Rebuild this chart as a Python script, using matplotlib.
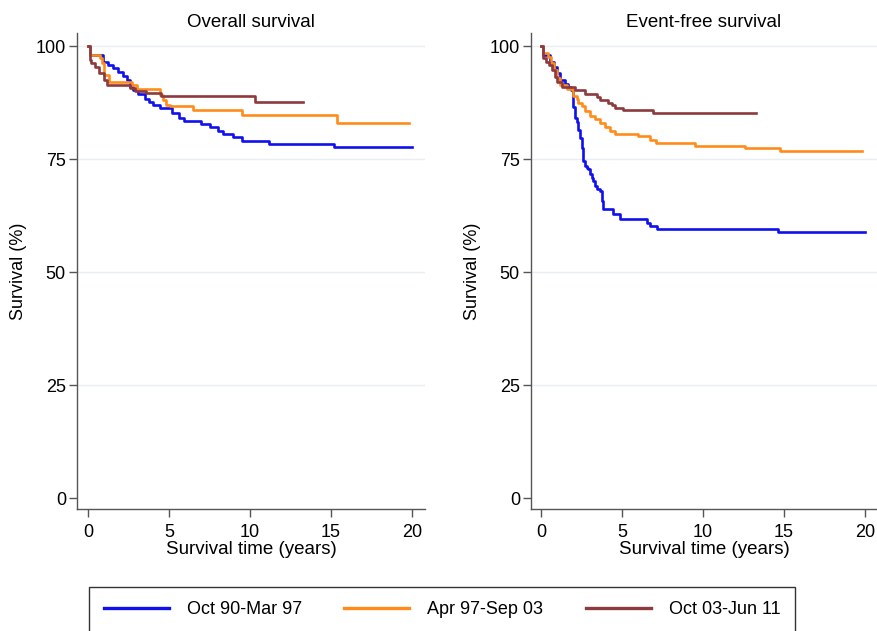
import matplotlib
matplotlib.use("Agg")
import matplotlib.pyplot as plt
from matplotlib import font_manager

# ---------------- data ----------------
groups = ["Oct 90-Mar 97", "Apr 97-Sep 03", "Oct 03-Jun 11"]
colors = ["#1010ee", "#ff8c1a", "#8c3a3e"]

os_blue_t = [0, 0.15, 0.95, 1.25, 1.56, 1.87, 2.18, 2.38, 2.59, 2.75, 3.1, 3.5, 3.75, 4.0,
             4.44, 5.2, 5.6, 5.9, 7.0, 7.5, 8.0, 8.35, 8.97, 9.5, 11.2, 15.2, 20.0]
os_blue_s = [100, 98.0, 96.5, 95.8, 95.1, 94.3, 93.4, 92.5, 91.0, 90.3, 89.4, 88.4, 87.7, 86.9,
             86.2, 85.3, 84.2, 83.5, 82.7, 82.0, 81.3, 80.5, 79.8, 79.1, 78.4, 77.6, 77.6]

os_orange_t = [0, 0.15, 0.74, 0.85, 1.0, 1.3, 2.7, 3.0, 4.44, 4.6, 4.8, 5.06, 6.5, 9.5, 15.35, 19.8]
os_orange_s = [100, 98.0, 97.3, 96.2, 93.6, 92.1, 91.4, 90.5, 89.2, 88.1, 87.0, 86.7, 85.9, 84.8, 82.9, 82.9]

os_brown_t = [0, 0.1, 0.2, 0.45, 0.66, 0.97, 1.2, 2.6, 2.9, 3.6, 4.5, 10.3, 13.3]
os_brown_s = [100, 96.9, 96.2, 95.4, 94.0, 92.5, 91.4, 90.7, 90.0, 89.6, 89.0, 87.7, 87.7]

efs_blue_t = [0, 0.1, 0.55, 0.8, 1.0, 1.15, 1.45, 1.67, 1.87, 1.95, 2.0, 2.1, 2.2, 2.3, 2.41,
              2.51, 2.61, 2.72, 2.82, 2.92, 3.02, 3.12, 3.23, 3.33, 3.44, 3.64, 3.75, 3.85,
              4.47, 4.9, 6.52, 6.73, 7.14, 14.65, 20.0]
efs_blue_s = [100, 98.0, 96.5, 95.4, 94.0, 92.5, 91.7, 91.0, 90.2, 88.4, 86.5, 84.0, 83.3, 81.5,
              79.6, 77.4, 74.5, 73.4, 73.0, 72.7, 71.6, 70.8, 70.1, 69.0, 68.3, 67.9, 65.7, 63.9,
              62.8, 61.7, 60.9, 60.2, 59.5, 58.9, 58.9]

efs_orange_t = [0, 0.1, 0.43, 0.64, 0.8, 1.0, 1.2, 1.6, 2.0, 2.2, 2.3, 2.5, 2.7, 3.0, 3.33,
                3.64, 3.95, 4.26, 4.57, 6.0, 6.7, 7.1, 9.5, 12.6, 14.75, 19.8]
efs_orange_s = [100, 98.4, 97.6, 96.2, 94.7, 92.9, 91.4, 90.4, 89.0, 88.2, 87.5, 86.8, 85.7, 84.6,
                83.8, 83.0, 82.2, 81.3, 80.5, 80.0, 79.3, 78.5, 78.0, 77.4, 76.7, 76.7]

efs_brown_t = [0, 0.1, 0.3, 0.5, 0.65, 0.85, 1.0, 1.3, 2.1, 2.72, 3.44, 3.64, 4.16, 4.36, 4.57,
               5.08, 6.94, 13.3]
efs_brown_s = [100, 97.3, 96.5, 95.8, 94.7, 93.2, 92.1, 91.0, 90.3, 89.4, 88.8, 88.0, 87.5, 86.9,
               86.3, 85.9, 85.3, 85.3]

panel_titles = ["Overall survival", "Event-free survival"]
x_ticks = [0, 5, 10, 15, 20]
y_ticks = [0, 25, 50, 75, 100]
x_label = "Survival time (years)"
y_label = "Survival (%)"

# ---------------- fonts ----------------
avail = {f.name for f in font_manager.fontManager.ttflist}
narrow = "Liberation Sans Narrow" if "Liberation Sans Narrow" in avail else "Liberation Sans"
regular = "Liberation Sans"

# ---------------- figure ----------------
W, H = 877, 631
fig = plt.figure(figsize=(W / 100, H / 100), dpi=100)

def frac(l, r, t, b):
    return [l / W, (H - b) / H, (r - l) / W, (b - t) / H]

ax1 = fig.add_axes(frac(77, 425, 33, 509))
ax2 = fig.add_axes(frac(531, 877, 33, 509))

panels = [
    (ax1, [(os_blue_t, os_blue_s), (os_orange_t, os_orange_s), (os_brown_t, os_brown_s)], (-0.68, 20.8)),
    (ax2, [(efs_blue_t, efs_blue_s), (efs_orange_t, efs_orange_s), (efs_brown_t, efs_brown_s)], (-0.62, 20.74)),
]

axis_col = "#555555"
handles = []
for i, (ax, series, xl) in enumerate(panels):
    for y in [25, 50, 75, 100]:
        ax.axhline(y, color="#eaedf1", lw=1.0, zorder=0)
    hs = []
    for (t, s), c in zip(series, colors):
        h, = ax.step(t, s, where="post", color=c, lw=1.9, zorder=3)
        hs.append(h)
    if i == 0:
        handles = hs
    ax.set_xlim(*xl)
    ax.set_ylim(-2.43, 102.9)
    ax.set_xticks(x_ticks)
    ax.set_yticks(y_ticks)
    for sp in ["top", "right"]:
        ax.spines[sp].set_visible(False)
    for sp in ["left", "bottom"]:
        ax.spines[sp].set_color(axis_col)
        ax.spines[sp].set_linewidth(1.0)
    ax.tick_params(axis="both", direction="out", length=5.5, width=1.0, color=axis_col,
                   labelsize=13)
    ax.tick_params(axis="x", pad=5.5)
    ax.tick_params(axis="y", pad=2.5)
    for lab in ax.get_xticklabels() + ax.get_yticklabels():
        lab.set_fontfamily(narrow)
    ax.set_title(panel_titles[i], fontsize=13.5, fontfamily=regular, pad=4.5)
    ax.set_xlabel(x_label, fontsize=13.5, fontfamily=narrow, labelpad=0)
    ax.set_ylabel(y_label, fontsize=13, fontfamily=narrow, labelpad=6)
    ax.set_facecolor("white")

leg = fig.legend(handles, groups, loc="center", bbox_to_anchor=(442 / W, (H - 609.5) / H),
                 ncol=3, frameon=True, fancybox=False, edgecolor="black",
                 prop={"family": regular, "size": 13}, handlelength=3.6, columnspacing=2.35,
                 handletextpad=1.0, borderpad=0.8, borderaxespad=0)
leg.get_frame().set_linewidth(1.0)
for lh in leg.get_lines():
    lh.set_linewidth(2.4)

fig.savefig("out.png", dpi=100)
